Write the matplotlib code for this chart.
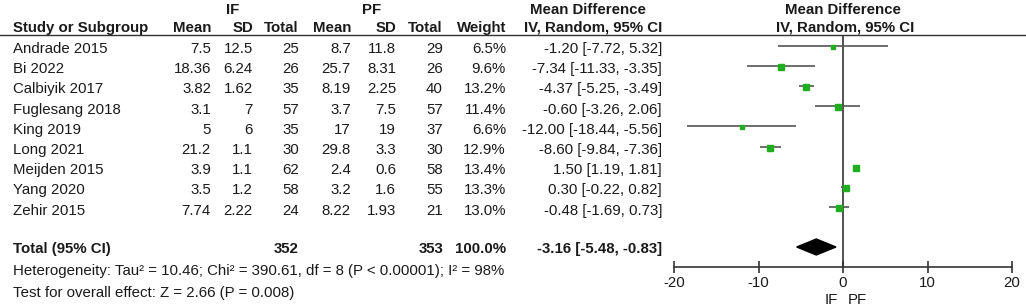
import matplotlib.pyplot as plt
import numpy as np

plt.rcParams['font.family'] = ['Liberation Sans', 'DejaVu Sans']

studies = ["Andrade 2015", "Bi 2022", "Calbiyik 2017", "Fuglesang 2018", "King 2019",
           "Long 2021", "Meijden 2015", "Yang 2020", "Zehir 2015"]
if_mean = ["7.5", "18.36", "3.82", "3.1", "5", "21.2", "3.9", "3.5", "7.74"]
if_sd = ["12.5", "6.24", "1.62", "7", "6", "1.1", "1.1", "1.2", "2.22"]
if_n = [25, 26, 35, 57, 35, 30, 62, 58, 24]
pf_mean = ["8.7", "25.7", "8.19", "3.7", "17", "29.8", "2.4", "3.2", "8.22"]
pf_sd = ["11.8", "8.31", "2.25", "7.5", "19", "3.3", "0.6", "1.6", "1.93"]
pf_n = [29, 26, 40, 57, 37, 30, 58, 55, 21]
weight = [6.5, 9.6, 13.2, 11.4, 6.6, 12.9, 13.4, 13.3, 13.0]
md = [-1.20, -7.34, -4.37, -0.60, -12.00, -8.60, 1.50, 0.30, -0.48]
lo = [-7.72, -11.33, -5.25, -3.26, -18.44, -9.84, 1.19, -0.22, -1.69]
hi = [5.32, -3.35, -3.49, 2.06, -5.56, -7.36, 1.81, 0.82, 0.73]
tot_if, tot_pf, tot_weight = 352, 353, 100.0
tot_md, tot_lo, tot_hi = -3.16, -5.48, -0.83
xticks = [-20, -10, 0, 10, 20]

W, H = 1026, 308
fig = plt.figure(figsize=(W / 100, H / 100), dpi=100)
ax = fig.add_axes([0, 0, 1, 1])
ax.set_xlim(0, W)
ax.set_ylim(H, 0)
ax.axis('off')

txt = '#1a1a1a'
fs = 10.8
rows = 45.5 + 20.2 * np.arange(len(studies))
toff = 3.5

# column right edges (pixels)
cols = [211, 253, 299, 351, 396, 443, 506, 662]

# headers
ax.text(233, 10, "IF", ha='center', va='center', fontsize=fs, weight='bold', color=txt)
ax.text(372, 10, "PF", ha='center', va='center', fontsize=fs, weight='bold', color=txt)
ax.text(588, 10, "Mean Difference", ha='center', va='center', fontsize=fs, weight='bold', color=txt)
ax.text(13, 28, "Study or Subgroup", ha='left', va='center', fontsize=fs, weight='bold', color=txt)
for c, h in zip(cols, ["Mean", "SD", "Total", "Mean", "SD", "Total", "Weight", "IV, Random, 95% CI"]):
    ax.text(c, 28, h, ha='right', va='center', fontsize=fs, weight='bold', color=txt)
ax.axhline(35, color='#333333', lw=1.0)

for i, s in enumerate(studies):
    y = rows[i] + toff
    ax.text(13, y, s, ha='left', va='center', fontsize=fs, color=txt)
    vals = [if_mean[i], if_sd[i], str(if_n[i]), pf_mean[i], pf_sd[i], str(pf_n[i]),
            f"{weight[i]:.1f}%", f"{md[i]:.2f} [{lo[i]:.2f}, {hi[i]:.2f}]"]
    for c, v in zip(cols, vals):
        ax.text(c, y, v, ha='right', va='center', fontsize=fs, color=txt)

ty = 249
ax.text(13, ty, "Total (95% CI)", ha='left', va='center', fontsize=fs, weight='bold', color=txt)
ax.text(cols[2], ty, str(tot_if), ha='right', va='center', fontsize=fs, weight='bold', color=txt)
ax.text(cols[5], ty, str(tot_pf), ha='right', va='center', fontsize=fs, weight='bold', color=txt)
ax.text(cols[6], ty, f"{tot_weight:.1f}%", ha='right', va='center', fontsize=fs, weight='bold', color=txt)
ax.text(cols[7], ty, f"{tot_md:.2f} [{tot_lo:.2f}, {tot_hi:.2f}]", ha='right', va='center',
        fontsize=fs, weight='bold', color=txt)
ax.text(13, 271, "Heterogeneity: Tau² = 10.46; Chi² = 390.61, df = 8 (P < 0.00001); I² = 98%",
        ha='left', va='center', fontsize=fs, color=txt)
ax.text(13, 293, "Test for overall effect: Z = 2.66 (P = 0.008)",
        ha='left', va='center', fontsize=fs, color=txt)

# forest panel
fx0, fx1 = 674, 1012
fa = fig.add_axes([fx0 / W, 0, (fx1 - fx0) / W, 1])
fa.set_xlim(-20, 20)
fa.set_ylim(H, 0)
fa.patch.set_visible(False)
for sp in ['top', 'left', 'right']:
    fa.spines[sp].set_visible(False)
fa.spines['bottom'].set_position(('data', 267))
fa.spines['bottom'].set_color('#333333')
fa.spines['bottom'].set_linewidth(1.2)
fa.set_yticks([])
fa.set_xticks(xticks)
fa.set_xticklabels([str(t) for t in xticks])
fa.tick_params(axis='x', direction='inout', length=9, width=1.2, color='#333333',
               pad=2, labelsize=fs, labelcolor=txt)

fa.text(0, 10, "Mean Difference", ha='center', va='center', fontsize=fs, weight='bold', color=txt)
fa.text(0.3, 28, "IV, Random, 95% CI", ha='center', va='center', fontsize=fs, weight='bold', color=txt)

fa.vlines(0, 35, 267, color='#333333', lw=1.2)
fa.hlines(rows, lo, hi, color='#555555', lw=1.2)
for i in range(len(studies)):
    fa.plot(md[i], rows[i] + 1, marker='s', ms=np.sqrt(weight[i]) * 1.2,
            color='#1fae1f', mec='#1fae1f', lw=0)
dy = 8
fa.fill([tot_lo, tot_md, tot_hi, tot_md], [247, 247 - dy, 247, 247 + dy], color='black')
fa.text(-0.6, 300, "IF", ha='right', va='center', fontsize=fs, color=txt)
fa.text(0.6, 300, "PF", ha='left', va='center', fontsize=fs, color=txt)

fig.savefig("out.png", dpi=100)
